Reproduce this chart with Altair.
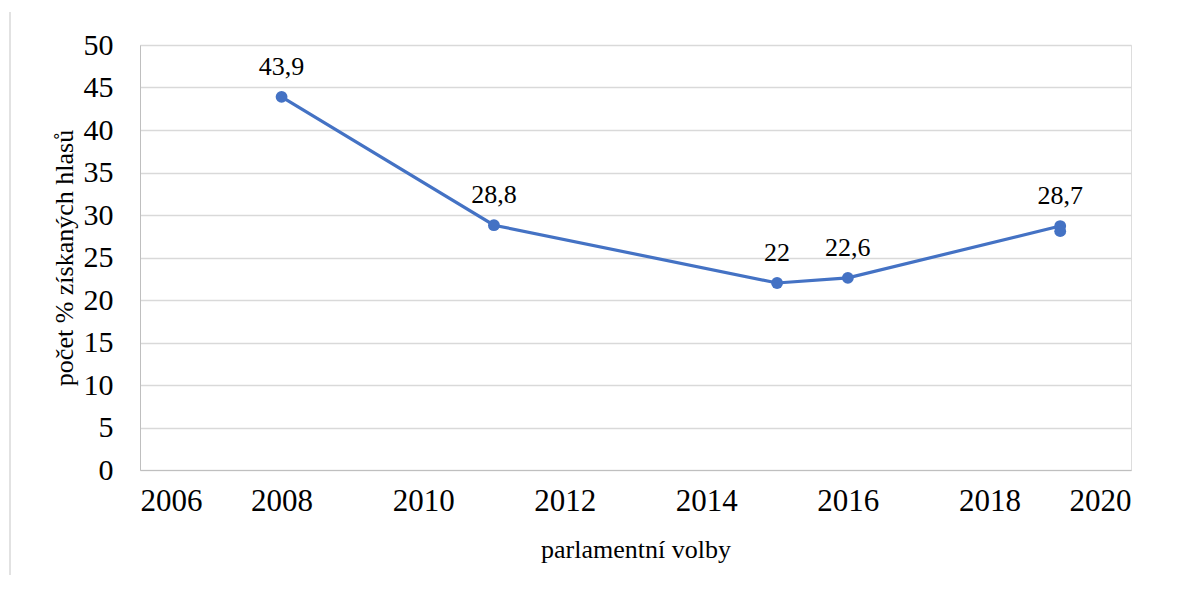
import altair as alt
import pandas as pd

years = [2008, 2011, 2015, 2016, 2019, 2019]
values = [43.9, 28.8, 22.0, 22.6, 28.7, 28.1]
labels = ["43,9", "28,8", "22", "22,6", "28,7", ""]
order = [0, 1, 2, 3, 4, 5]
x_ticks = [2006, 2008, 2010, 2012, 2014, 2016, 2018, 2020]
y_ticks = [0, 5, 10, 15, 20, 25, 30, 35, 40, 45, 50]

df = pd.DataFrame({"rok": years, "hodnota": values, "popisek": labels, "poradi": order})

FONT = "Times New Roman, Liberation Serif, serif"
BLUE = "#4472C4"

x = alt.X("rok:Q", scale=alt.Scale(domain=[2006, 2020], nice=False, zero=False),
          axis=alt.Axis(values=x_ticks, format="d", title="parlamentní volby",
                        grid=False, ticks=False, domain=True, domainColor="#bfbfbf",
                        labelFont=FONT, labelFontSize=31, labelColor="black", labelPadding=16,
                        titleFont=FONT, titleFontSize=26, titleFontWeight="normal",
                        titleColor="black", titlePadding=20))
y = alt.Y("hodnota:Q", scale=alt.Scale(domain=[0, 50], nice=False),
          axis=alt.Axis(values=y_ticks, title="počet % získaných hlasů",
                        grid=True, gridColor="#d9d9d9", gridWidth=1.5, ticks=False,
                        domain=True, domainColor="#bfbfbf",
                        labelFont=FONT, labelFontSize=30, labelColor="black", labelPadding=27,
                        titleFont=FONT, titleFontSize=26, titleFontWeight="normal",
                        titleColor="black", titlePadding=6))

base = alt.Chart(df)
line = base.mark_line(color=BLUE, strokeWidth=3.2).encode(x=x, y=y, order="poradi:O")
pts = base.mark_point(color=BLUE, filled=True, size=140, opacity=1).encode(x=x, y=y)
txt = base.mark_text(font=FONT, fontSize=26, color="black", baseline="alphabetic", dy=-22).encode(
    x=x, y=y, text="popisek:N")
frame = alt.Chart(pd.DataFrame({"a": [0]})).mark_rule(color="#d9d9d9", strokeWidth=1.5).encode(
    x=alt.value(-130), y=alt.value(-33), y2=alt.value(535))

chart = alt.layer(frame, line, pts, txt).properties(
    width=991, height=425,
    padding={"left": 132, "top": 37, "right": 40, "bottom": 105},
    autosize=alt.AutoSizeParams(type="none"),
).configure_view(stroke=None).configure(background="white")

chart.save("out.html", embed_options={"renderer": "svg", "actions": False})
